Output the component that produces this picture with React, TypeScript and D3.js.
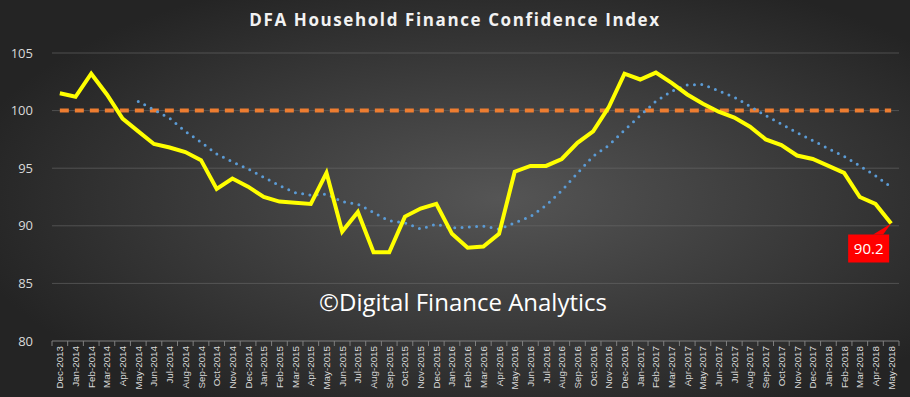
import React, { useEffect, useRef } from "react";
import * as d3 from "d3";

const months = [
  "Dec-2013",
  "Jan-2014", "Feb-2014", "Mar-2014", "Apr-2014", "May-2014", "Jun-2014", "Jul-2014", "Aug-2014", "Sep-2014", "Oct-2014", "Nov-2014", "Dec-2014",
  "Jan-2015", "Feb-2015", "Mar-2015", "Apr-2015", "May-2015", "Jun-2015", "Jul-2015", "Aug-2015", "Sep-2015", "Oct-2015", "Nov-2015", "Dec-2015",
  "Jan-2016", "Feb-2016", "Mar-2016", "Apr-2016", "May-2016", "Jun-2016", "Jul-2016", "Aug-2016", "Sep-2016", "Oct-2016", "Nov-2016", "Dec-2016",
  "Jan-2017", "Feb-2017", "Mar-2017", "Apr-2017", "May-2017", "Jun-2017", "Jul-2017", "Aug-2017", "Sep-2017", "Oct-2017", "Nov-2017", "Dec-2017",
  "Jan-2018", "Feb-2018", "Mar-2018", "Apr-2018", "May-2018",
];

// index values
const indexValues = [
  101.5, 101.2, 103.2, 101.4, 99.3, 98.2, 97.1, 96.8, 96.4, 95.7, 93.2, 94.1, 93.4,
  92.5, 92.1, 92.0, 91.9, 94.6, 89.5, 91.2, 87.7, 87.7, 90.8, 91.5, 91.9,
  89.3, 88.1, 88.2, 89.3, 94.7, 95.2, 95.2, 95.8, 97.2, 98.2, 100.3, 103.2,
  102.7, 103.3, 102.4, 101.4, 100.6, 99.9, 99.4, 98.6, 97.5, 97.0, 96.1, 95.8,
  95.2, 94.6, 92.5, 91.9, 90.2,
];

const baseline = 100;
const maPeriod = 6; // Excel moving-average trendline period
const yTicks = [80, 85, 90, 95, 100, 105];

const width = 910, height = 397;

export default function App() {
  const ref = useRef<SVGSVGElement>(null);

  useEffect(() => {
    const svg = d3.select(ref.current).attr("width", width).attr("height", height);

    const defs = svg.selectAll("defs").data([0]).join("defs");
    const grad = defs.selectAll("radialGradient").data([0]).join("radialGradient")
      .attr("id", "bg").attr("cx", "55%").attr("cy", "50%").attr("r", "60%");
    grad.selectAll("stop").data([["0%", "#555555"], ["100%", "#242424"]]).join("stop")
      .attr("offset", d => d[0]).attr("stop-color", d => d[1]);

    svg.selectAll(".bg").data([0]).join("rect").attr("class", "bg")
      .attr("width", width).attr("height", height).attr("fill", "url(#bg)");

    const x = d3.scaleBand().domain(months).range([52, 899]);
    const y = d3.scaleLinear().domain([80, 105]).range([341, 53]);
    const cx = (i: number) => (x(months[i]) as number) + x.bandwidth() / 2;

    // gridlines
    svg.selectAll(".grid").data(yTicks.slice(1)).join("line").attr("class", "grid")
      .attr("x1", 52).attr("x2", 899).attr("y1", d => y(d)).attr("y2", d => y(d))
      .attr("stroke", "#6a6a6a").attr("stroke-width", 1).attr("opacity", 0.6);

    // y labels
    svg.selectAll(".ylab").data(yTicks).join("text").attr("class", "ylab")
      .attr("x", 33).attr("y", d => y(d)).attr("dy", "0.35em").attr("text-anchor", "end")
      .attr("fill", "#d9d9d9").attr("font-family", "Liberation Sans Narrow, Open Sans, sans-serif")
      .attr("font-size", 13).text(d => d);

    // x axis
    const xAxis = svg.selectAll(".x-axis").data([0]).join("g").attr("class", "x-axis")
      .attr("transform", `translate(0, ${y(80)})`);
    xAxis.selectAll(".axisline").data([0]).join("line").attr("class", "axisline")
      .attr("x1", 52).attr("x2", 899).attr("stroke", "#7f7f7f");
    xAxis.selectAll(".tick").data(months.concat(["end"])).join("line").attr("class", "tick")
      .attr("x1", (d, i) => 52 + i * x.step()).attr("x2", (d, i) => 52 + i * x.step())
      .attr("y1", 0).attr("y2", 5).attr("stroke", "#7f7f7f");
    xAxis.selectAll(".xlab").data(months).join("text").attr("class", "xlab")
      .attr("transform", (d) => `translate(${(x(d) as number) + x.bandwidth() / 2 + 3.5}, 5) rotate(-90)`)
      .attr("text-anchor", "end").attr("fill", "#d9d9d9")
      .attr("font-family", "Liberation Sans, Arial, sans-serif").attr("font-size", 9.8).text(d => d);

    // title
    svg.selectAll(".title").data([0]).join("text").attr("class", "title")
      .attr("x", 455).attr("y", 26).attr("text-anchor", "middle")
      .attr("fill", "#f2f2f2").attr("font-family", "Open Sans, sans-serif").attr("font-weight", "bold")
      .attr("font-size", 17).attr("letter-spacing", 1.6).text("DFA Household Finance Confidence Index");

    // watermark
    svg.selectAll(".wm").data([0]).join("text").attr("class", "wm")
      .attr("x", 463).attr("y", 311).attr("text-anchor", "middle")
      .attr("fill", "#ffffff").attr("font-family", "Open Sans, sans-serif")
      .attr("font-size", 24).text("©Digital Finance Analytics");

    // 100 baseline
    const line = d3.line<number>().x((d, i) => cx(i)).y(d => y(d));
    svg.selectAll(".base").data([months.map(() => baseline)]).join("path").attr("class", "base")
      .attr("d", line).attr("fill", "none").attr("stroke", "#ED7D31").attr("stroke-width", 4)
      .attr("stroke-dasharray", "9 6");

    // moving average trendline
    const ma = indexValues.map((v, i) => i < maPeriod - 1 ? null : d3.mean(indexValues.slice(i - maPeriod + 1, i + 1)) as number);
    const maLine = d3.line<number | null>().defined(d => d !== null).x((d, i) => cx(i)).y(d => y(d as number));
    svg.selectAll(".ma").data([ma]).join("path").attr("class", "ma")
      .attr("d", maLine).attr("fill", "none").attr("stroke", "#5B9BD5").attr("stroke-width", 3)
      .attr("stroke-linecap", "round").attr("stroke-dasharray", "0 7.3");

    // index line
    svg.selectAll(".idx").data([indexValues]).join("path").attr("class", "idx")
      .attr("d", line).attr("fill", "none").attr("stroke", "#FFFF00").attr("stroke-width", 4)
      .attr("stroke-linejoin", "miter");

    // last value callout
    const last = indexValues.length - 1;
    const px = cx(last), py = y(indexValues[last]);
    const bx = px - 43, by = py + 11, bw = 41, bh = 28;
    const callout = svg.selectAll(".callout").data([0]).join("g").attr("class", "callout");
    callout.selectAll("path").data([0]).join("path")
      .attr("d", `M${bx + bw - 16},${by} L${px},${py} L${bx + bw - 6},${by} Z`).attr("fill", "#FF0000");
    callout.selectAll("rect").data([0]).join("rect")
      .attr("x", bx).attr("y", by).attr("width", bw).attr("height", bh).attr("fill", "#FF0000");
    callout.selectAll("text").data([indexValues[last]]).join("text")
      .attr("x", bx + bw / 2).attr("y", by + bh / 2).attr("dy", "0.35em").attr("text-anchor", "middle")
      .attr("fill", "#ffffff").attr("font-family", "Open Sans, sans-serif").attr("font-size", 15)
      .text(d => d.toFixed(1));
  }, []);

  return <svg ref={ref} style={{ position: "absolute", left: 0, top: 0 }}></svg>;
}
